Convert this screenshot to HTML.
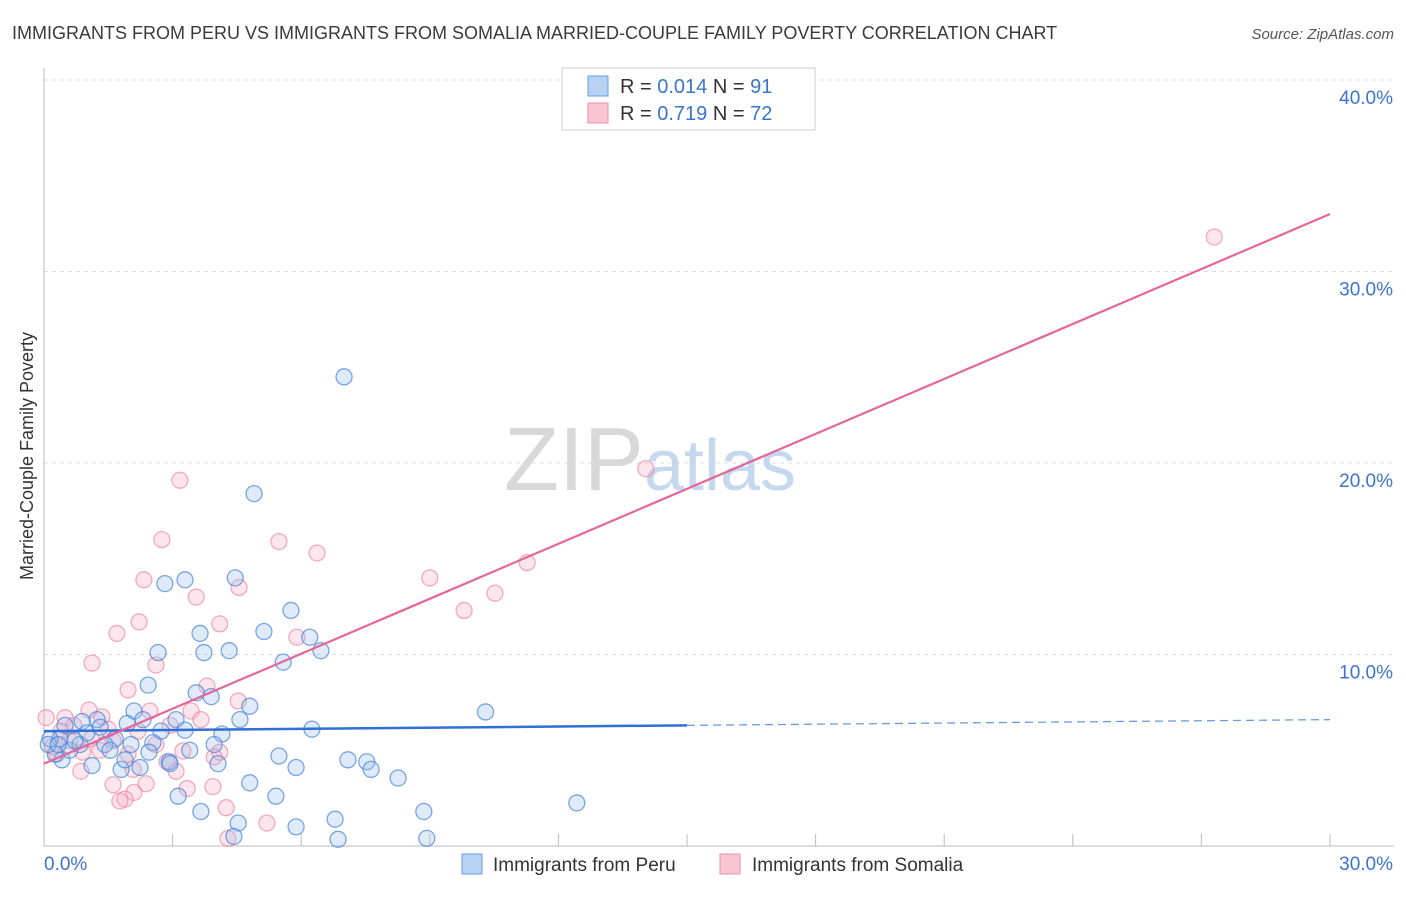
<!DOCTYPE html>
<html><head><meta charset="utf-8"><style>
body{margin:0;background:#fff;font-family:"Liberation Sans",sans-serif;}
svg text{font-family:"Liberation Sans",sans-serif;}
</style></head><body>
<svg width="1406" height="892" xmlns="http://www.w3.org/2000/svg">
<text x="12" y="39" font-size="18" fill="#3a3a3a">IMMIGRANTS FROM PERU VS IMMIGRANTS FROM SOMALIA MARRIED-COUPLE FAMILY POVERTY CORRELATION CHART</text>
<text x="1394" y="39" font-size="15" fill="#555" text-anchor="end" font-style="italic">Source: ZipAtlas.com</text>
<g id="grid"></g>
<text x="650" y="490" font-size="90" fill="#d8d8d8" text-anchor="middle" font-family="Liberation Serif">ZIP<tspan fill="#c5d8ee" font-family="Liberation Sans" font-size="72">atlas</tspan></text>
<text x="33" y="456" font-size="18" fill="#333" text-anchor="middle" transform="rotate(-90 33 456)">Married-Couple Family Poverty</text>
<g id="pts"></g>
<g id="lines"></g>
<g>
<rect x="562" y="68" width="253" height="62" fill="#fff" stroke="#ccc"/>
<rect x="588" y="76" width="20" height="20" fill="#b8d2f3" stroke="#6a9de0"/>
<rect x="588" y="103" width="20" height="20" fill="#f9c5d3" stroke="#ea8fa8"/>
<text x="620" y="93" font-size="20" fill="#333">R = <tspan fill="#3b74d0">0.014</tspan>   N = <tspan fill="#3b74d0">91</tspan></text>
<text x="620" y="120" font-size="20" fill="#333">R = <tspan fill="#3b74d0">0.719</tspan>   N = <tspan fill="#3b74d0">72</tspan></text>
</g>
<g>
<rect x="462" y="854" width="20" height="20" fill="#b8d2f3" stroke="#6a9de0"/>
<text x="493" y="871" font-size="19" fill="#333">Immigrants from Peru</text>
<rect x="720" y="854" width="20" height="20" fill="#f9c5d3" stroke="#ea8fa8"/>
<text x="752" y="871" font-size="19" fill="#333">Immigrants from Somalia</text>
</g>
</svg>
<script>
const xTickLabels=["0.0%","30.0%"];
const yTicks=[10,20,30,40];
const peruX=[7.0,4.9,4.46,2.82,3.29,5.76,5.13,3.64,6.2,4.32,3.73,6.46,2.66,5.58,2.43,3.9,3.55,4.8,4.57,10.3,6.25,3.08,2.1,2.31,1.94,2.73,3.29,4.15,3.97,3.4,1.24,0.89,0.37,1.66,2.03,2.54,5.48,7.09,7.53,7.63,5.88,4.06,2.92,2.24,1.8,1.12,0.42,4.8,8.26,3.13,5.41,3.66,12.43,8.86,6.79,4.53,5.88,4.43,6.86,8.93,0.14,0.26,0.6,0.84,1.42,1.54,0.49,1.0,0.1,0.33,0.72,1.31,1.89,2.45,2.94];
const peruY=[24.5,18.4,14.0,13.7,13.9,12.3,11.2,11.1,10.9,10.2,10.1,10.2,10.1,9.6,8.4,7.8,8.0,7.3,6.6,7.0,6.1,6.6,7.05,6.6,6.4,6.0,6.05,5.85,5.3,5.0,6.6,6.5,5.6,5.6,5.3,5.4,4.7,4.5,4.4,4.0,4.1,4.3,4.4,4.1,4.0,4.2,4.5,3.3,3.55,2.6,2.6,1.8,2.25,1.8,1.4,1.2,1.0,0.5,0.35,0.4,5.6,4.8,5.0,5.3,5.3,5.0,6.3,5.9,5.3,5.3,5.5,6.2,4.5,4.9,4.3];
const somX=[27.3,14.04,3.17,2.75,5.48,6.37,11.27,9.0,2.33,4.55,3.55,10.52,9.8,2.22,4.1,1.7,5.9,1.12,2.61,3.8,1.96,4.53,2.47,3.43,1.05,3.66,0.05,0.49,1.35,2.94,2.19,1.61,2.61,3.24,4.1,1.96,3.97,2.87,2.08,0.86,3.08,1.61,2.38,3.94,3.34,2.1,1.89,1.77,4.25,5.2,4.29,0.3,0.6,1.1,0.4,0.9,1.3,0.2,1.5,0.7];
const somY=[31.8,19.7,19.1,16.0,15.9,15.3,14.8,14.0,13.9,13.5,13.0,13.2,12.3,11.7,11.6,11.1,10.9,9.55,9.45,8.35,8.15,7.57,7.05,7.05,7.1,6.6,6.7,6.7,6.75,6.3,6.0,5.5,5.3,4.96,4.9,4.8,4.65,4.4,4.0,3.9,3.9,3.2,3.25,3.1,3.0,2.8,2.45,2.35,2.0,1.2,0.4,4.8,5.5,5.6,6.0,4.9,5.0,5.2,6.1,6.3];
const peruLine=[6.0,6.6];
const somLine=[4.3,33.0];
const NS="http://www.w3.org/2000/svg";
const X=v=>44+v*(1286/30), Y=v=>846-v*19.15;
function mk(t,a,p){const e=document.createElementNS(NS,t);for(const k in a)e.setAttribute(k,a[k]);p.appendChild(e);return e;}
const g=document.getElementById('grid');
yTicks.forEach(t=>{
 const l=mk('line',{x1:44,x2:1394,y1:Y(t),y2:Y(t),stroke:'#ddd','stroke-dasharray':'4,4'},g);
 
 
 const tx=mk('text',{x:1393,y:Y(t)+24,'font-size':19,fill:'#3b74d0','text-anchor':'end'},g);
 tx.textContent=t.toFixed(1)+'%';
 
 
});
mk('line',{x1:44,x2:44,y1:68,y2:846,stroke:'#bbb'},g);
mk('line',{x1:44,x2:1394,y1:846,y2:846,stroke:'#bbb'},g);
for(let i=0;i<=10;i++){mk('line',{x1:X(i*3),x2:X(i*3),y1:834,y2:846,stroke:'#bbb'},g);}
const t0=mk('text',{x:44,y:870,'font-size':19,fill:'#3b74d0'},g);t0.textContent=xTickLabels[0];


const t1=mk('text',{x:1393,y:870,'font-size':19,fill:'#3b74d0','text-anchor':'end'},g);t1.textContent=xTickLabels[1];


const p=document.getElementById('pts');
somX.forEach((v,i)=>{const c=mk('circle',{cx:X(v),cy:Y(somY[i]),r:8,fill:'rgba(246,170,192,0.3)',stroke:'rgba(234,120,150,0.6)','stroke-width':1.3},p);
 
 });
peruX.forEach((v,i)=>{const c=mk('circle',{cx:X(v),cy:Y(peruY[i]),r:8,fill:'rgba(150,190,240,0.3)',stroke:'rgba(70,130,215,0.7)','stroke-width':1.3},p);
 
 });
const L=document.getElementById('lines');
const pm=peruLine[0]+(peruLine[1]-peruLine[0])*15/30;
const a=mk('line',{x1:X(0),y1:Y(peruLine[0]),x2:X(15),y2:Y(pm),stroke:'#2f6fd6','stroke-width':2.5},L);


const b=mk('line',{x1:X(15),y1:Y(pm),x2:X(30),y2:Y(peruLine[1]),stroke:'#6a9de0','stroke-width':1.3,'stroke-dasharray':'8,5'},L);


const s=mk('line',{x1:X(0),y1:Y(somLine[0]),x2:X(30),y2:Y(somLine[1]),stroke:'#e5669a','stroke-width':2.2},L);


</script>
</body></html>
